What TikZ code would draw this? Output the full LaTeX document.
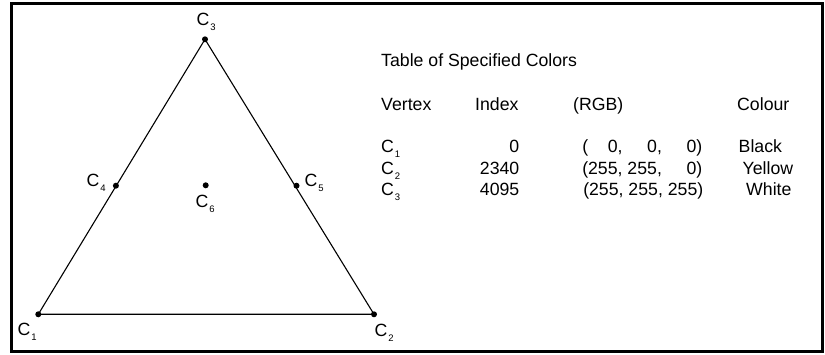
\documentclass[tikz,border=0pt]{standalone}
\usepackage{fontspec}
\setmainfont{Liberation Sans}
\newcommand{\Vx}[1]{C\kern1pt\raisebox{-5pt}{\fontsize{9.5}{10}\selectfont #1}}
\begin{document}
\begin{tikzpicture}[x=1pt,y=-1pt,font=\fontsize{17.7}{20}\selectfont,
  dot/.style={circle,fill,inner sep=0pt,minimum size=6pt},
  txt/.style={inner sep=0pt,anchor=base west},
  num/.style={inner sep=0pt,anchor=base east}]
\useasboundingbox (0,0) rectangle (825,355);
\draw[line width=3pt](11,4)rectangle(822,352);
% triangle
\node[dot](c1) at (38.3,314.3){};
\node[dot](c2) at (374,314.3){};
\node[dot](c3) at (205,39.3){};
\node[dot](c4) at (115.9,185.7){};
\node[dot](c5) at (296.5,185.7){};
\node[dot](c6) at (205.7,185.3){};
\draw[line width=1.1pt](c1.center)--(c2.center)--(c3.center)--cycle;
\node[txt](l1) at (17.5,336){\Vx{1}};
\node[txt](l2) at (374.5,337){\Vx{2}};
\node[txt](l3) at (196.5,26){\Vx{3}};
\node[txt](l4) at (86.5,187){\Vx{4}};
\node[txt](l5) at (304.5,187){\Vx{5}};
\node[txt](l6) at (195.5,207.5){\Vx{6}};

% table
\node[txt](title) at (381,67){Table of Specified Colors};
\node[txt](hv) at (381,111){Vertex};
\node[txt](hi) at (475,111){Index};
\node[txt](hr) at (573,111){(RGB)};
\node[txt](hc) at (737,111){Colour};
\node[txt](v1) at (381,153){\Vx{1}};
\node[txt](v2) at (381,175){\Vx{2}};
\node[txt](v3) at (381,196){\Vx{3}};
\node[num](i1) at (519.5,153){0};
\node[num](i2) at (519.5,175){2340};
\node[num](i3) at (519.5,196){4095};
\node[num](r1) at (702.5,153){(\phantom{25}0, \phantom{25}0, \phantom{25}0)};
\node[num](r2) at (702.5,175){(255, 255, \phantom{25}0)};
\node[num](r3) at (703.5,196){(255, 255, 255)};
\node[txt](k1) at (738.5,153){Black};
\node[txt](k2) at (742.5,175){Yellow};
\node[txt](k3) at (746,196){White};

\end{tikzpicture}
\end{document}
